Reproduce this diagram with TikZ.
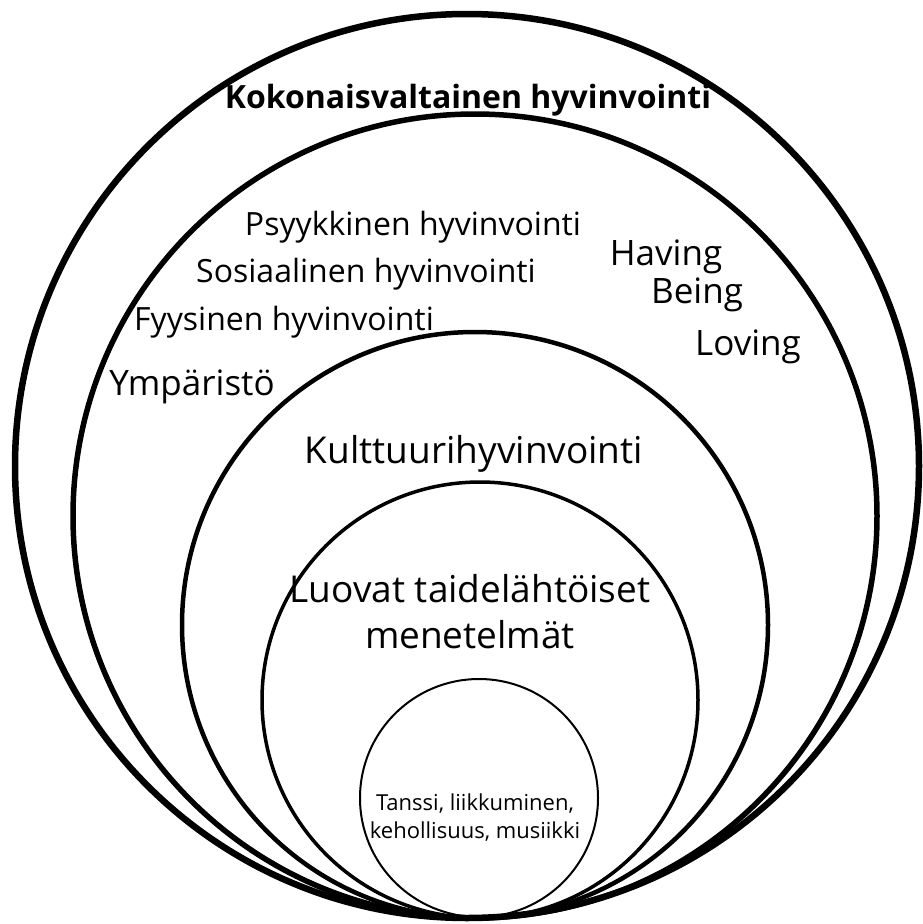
\documentclass[tikz,border=0pt]{standalone}
\usepackage{fontspec}
\setmainfont{Open Sans}
\usetikzlibrary{positioning}

\begin{document}
\begin{tikzpicture}[
  x=1pt, y=-1pt,
  ring/.style={draw=black},
  bigtext/.style={anchor=base, inner sep=0pt, font=\fontsize{32}{38}\selectfont},
  midtext/.style={bigtext, font=\fontsize{35}{42}\selectfont},
  innertext/.style={bigtext, align=center, font=\fontsize{37}{46}\selectfont},
  smalltext/.style={anchor=base, inner sep=0pt, align=center,
                    font=\fontsize{22}{28}\selectfont}
]
  \useasboundingbox (0,0) rectangle (922,924);

  % nested circles, all touching at the bottom
  \draw[ring, line width=6.5pt] (467,466) circle (452pt);
  \draw[ring, line width=5.5pt] (475,516) circle (402pt);
  \draw[ring, line width=4.5pt] (475,625) circle (293pt);
  \draw[ring, line width=3.5pt] (480,700) circle (218pt);
  \draw[ring, line width=2pt]   (479,798) circle (119pt);

  % outer ring
  \node[bigtext, font=\fontsize{32}{38}\selectfont\bfseries] (koko) at (468,108) {Kokonaisvaltainen hyvinvointi};

  % second ring
  \node[bigtext] (psyk) at (413,235) {Psyykkinen hyvinvointi};
  \node[bigtext] (sosi) at (366,282) {Sosiaalinen hyvinvointi};
  \node[bigtext] (fyys) at (284,330) {Fyysinen hyvinvointi};
  \node[midtext] (ymp)  at (192,395) {Ympäristö};
  \node[midtext] (hav)  at (666,265) {Having};
  \node[midtext] (bei)  at (697,303) {Being};
  \node[midtext] (lov)  at (748,355) {Loving};

  % inner rings
  \node[innertext] (kult) at (474,463) {Kulttuurihyvinvointi};
  \node[innertext] (luov) at (470,648) {Luovat taidelähtöiset\\menetelmät};
  \node[smalltext] (tans) at (475,838) {Tanssi, liikkuminen,\\kehollisuus, musiikki};
\end{tikzpicture}
\end{document}
